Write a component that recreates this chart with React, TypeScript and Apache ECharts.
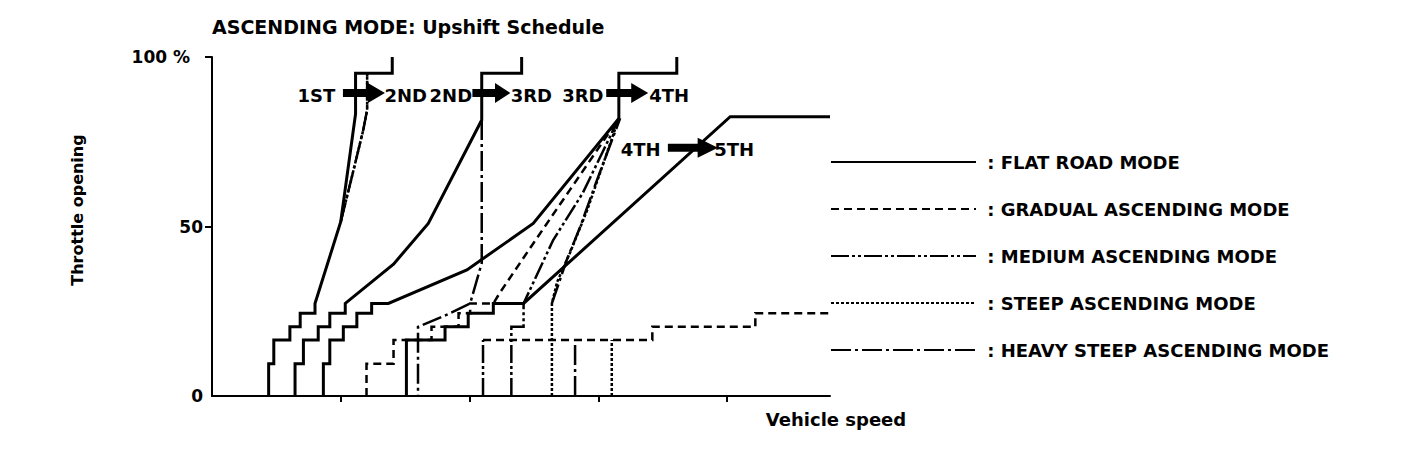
import React, { useEffect, useRef } from 'react';
import * as echarts from 'echarts';

const FONT = '"DejaVu Sans", "Liberation Sans", sans-serif';

const TITLE = 'ASCENDING MODE: Upshift Schedule';
const Y_NAME = 'Throttle opening';
const X_NAME = 'Vehicle speed';

const MODES = [
  'FLAT ROAD MODE',
  'GRADUAL ASCENDING MODE',
  'MEDIUM ASCENDING MODE',
  'STEEP ASCENDING MODE',
  'HEAVY STEEP ASCENDING MODE',
];

// x: vehicle speed (arbitrary units, 20 per tick), y: throttle opening (%)
const flat12 = [[8.8,0],[8.8,9.5],[9.6,9.5],[9.6,16.5],[12.1,16.5],[12.1,20.4],[13.7,20.4],[13.7,24.4],[16.0,24.4],[16.0,27.3],[20.0,51.4],[22.3,83.2],[22.3,95.2],[28.0,95.2],[28.0,100]];
const flat23 = [[12.9,0],[12.9,9.5],[14.2,9.5],[14.2,16.5],[16.5,16.5],[16.5,20.4],[18.3,20.4],[18.3,24.4],[20.7,24.4],[20.7,27.3],[28.2,38.9],[33.6,50.9],[41.9,81.4],[41.9,95.2],[48.1,95.2],[48.1,100]];
const flat34 = [[17.3,0],[17.3,9.5],[18.3,9.5],[18.3,16.5],[20.4,16.5],[20.4,20.4],[22.5,20.4],[22.5,24.4],[24.8,24.4],[24.8,27.3],[27.4,27.3],[39.6,37.2],[49.9,50.9],[63.2,81.9],[63.2,95.2],[72.2,95.2],[72.2,100]];
const flat45 = [[30.2,0],[30.2,16.5],[36.2,16.5],[36.2,20.4],[39.8,20.4],[39.8,24.4],[43.7,24.4],[43.7,27.3],[48.4,27.3],[80.5,82.4],[96,82.4]];

const grad34 = [[24.0,0],[24.0,9.5],[28.2,9.5],[28.2,16.5],[34.1,16.5],[34.1,20.4],[38.3,20.4],[38.3,24.4],[40.1,24.4],[40.1,27.3],[43.7,27.3],[44.7,30.4],[49.9,45.0],[55.6,60.8],[63.2,81.9]];
const grad45 = [[42.1,16.5],[68.4,16.5],[68.4,20.4],[84.4,20.4],[84.4,24.4],[96,24.4]];

const med34 = [[46.5,0],[46.5,20.4],[48.4,20.4],[48.4,27.3],[53.0,46.0],[57.6,59.9],[63.2,81.9]];
const med45 = [[42.1,0],[42.1,16.5]];

const steep12 = [[20.0,51.4],[21.8,65.2],[23.5,78.5],[24.1,84.4],[24.1,95.2]];
const steep34 = [[52.8,0],[52.8,27.3],[53.6,33.6],[55.6,42.2],[58.3,54.9],[63.2,81.9]];
const steep45 = [[62.1,0],[62.1,16.5]];

const heavy12 = [[20.0,51.4],[21.8,65.2],[23.5,78.5],[24.1,84.4],[24.1,95.2]];
const heavy23 = [[41.9,81.4],[41.9,39.2],[40.1,27.3],[36.4,23.9],[32.0,20.4],[32.0,0]];
const heavy34 = [[52.8,27.3],[55.1,40.1],[57.2,49.9],[59.8,63.7],[63.4,81.9]];
const heavy45 = [[56.4,0],[56.4,16.5]];

// shift arrows: position and length
const arrowPos = [[23.6,89.4],[43.4,89.4],[64.5,89.4],[74.7,73.2]];
const arrowLen = [42, 38, 42, 50];

const gearLabels = ['1ST','2ND','2ND','3RD','3RD','4TH','4TH','5TH'];
const gearPos = [[16.2,88.5],[30.1,88.5],[37.1,88.5],[49.6,88.5],[57.6,88.5],[71.0,88.5],[66.6,72.6],[81.1,72.6]];

const STYLES: Record<string, { type: any; width: number }> = {
  'FLAT ROAD MODE': { type: 'solid', width: 3 },
  'GRADUAL ASCENDING MODE': { type: [8, 5], width: 2.5 },
  'MEDIUM ASCENDING MODE': { type: [18, 3, 3, 3, 3, 3], width: 2.5 },
  'STEEP ASCENDING MODE': { type: [3, 2], width: 2.5 },
  'HEAVY STEEP ASCENDING MODE': { type: [20, 4, 3, 4], width: 2.5 },
};

const ARROW = 'path://M0,6L25,6L25,0L42,10L25,20L25,14L0,14Z';

export default function App() {
  const ref = useRef<HTMLDivElement>(null);
  useEffect(() => {
    const chart = echarts.init(ref.current!, null, { renderer: 'svg' });
    const mk = (name: string, data: number[][]) => ({
      type: 'line',
      name,
      data,
      symbol: 'none',
      showSymbol: false,
      clip: false,
      silent: true,
      z: 2,
      itemStyle: { color: '#000' },
      lineStyle: { color: '#000', width: STYLES[name].width, type: STYLES[name].type, cap: 'butt', join: 'miter' },
    });
    const font = { fontFamily: FONT, fontWeight: 'bold' as const, color: '#000' };
    const option: any = {
      animation: false,
      backgroundColor: '#fff',
      title: {
        text: TITLE,
        left: 212,
        top: 17,
        padding: 0,
        textStyle: { ...font, fontSize: 19 },
      },
      grid: { left: 212, top: 57, right: 578, bottom: 72, containLabel: false },
      legend: {
        data: MODES,
        orient: 'vertical',
        left: 830,
        top: 152,
        itemWidth: 145,
        itemHeight: 20,
        itemGap: 27,
        padding: 0,
        selectedMode: false,
        itemStyle: { opacity: 0 },
        formatter: (n: string) => ' : ' + n,
        textStyle: { ...font, fontSize: 18, lineHeight: 20 },
      },
      xAxis: {
        type: 'value',
        min: 0,
        max: 96,
        interval: 20,
        axisLine: { show: true, lineStyle: { color: '#000', width: 2 } },
        axisTick: { show: true, length: 6, customValues: [20, 40, 60, 80], lineStyle: { color: '#000', width: 2 } },
        axisLabel: { show: false },
        splitLine: { show: false },
      },
      yAxis: {
        type: 'value',
        min: 0,
        max: 100,
        interval: 50,
        axisLine: { show: true, lineStyle: { color: '#000', width: 2 } },
        axisTick: { show: true, length: 7, customValues: [50, 100], lineStyle: { color: '#000', width: 2 } },
        splitLine: { show: false },
        axisLabel: {
          ...font,
          fontSize: 17,
          margin: 9,
          formatter: (v: number) => (v === 100 ? '{p|100 %}' : String(v)),
          rich: { p: { ...font, fontSize: 17, padding: [0, 13, 0, 0] } },
        },
      },
      graphic: [
        {
          type: 'text',
          x: 77,
          y: 210,
          rotation: Math.PI / 2,
          style: { text: Y_NAME, font: `bold 16px ${FONT}`, fill: '#000', textAlign: 'center', textVerticalAlign: 'middle' },
        },
        {
          type: 'text',
          x: 836,
          y: 419,
          style: { text: X_NAME, font: `bold 18px ${FONT}`, fill: '#000', textAlign: 'center', textVerticalAlign: 'middle' },
        },
      ],
      series: [
        mk(MODES[0], flat12), mk(MODES[0], flat23), mk(MODES[0], flat34), mk(MODES[0], flat45),
        mk(MODES[1], grad34), mk(MODES[1], grad45),
        mk(MODES[2], med34), mk(MODES[2], med45),
        mk(MODES[3], steep12), mk(MODES[3], steep34), mk(MODES[3], steep45),
        mk(MODES[4], heavy12), mk(MODES[4], heavy23), mk(MODES[4], heavy34), mk(MODES[4], heavy45),
        {
          type: 'scatter',
          name: 'arrows',
          silent: true,
          z: 5,
          symbol: ARROW,
          itemStyle: { color: '#000', opacity: 1 },
          data: arrowPos.map((p, i) => ({ value: p, symbolSize: [arrowLen[i], 20] })),
        },
        {
          type: 'scatter',
          name: 'gears',
          silent: true,
          z: 6,
          symbolSize: 1,
          itemStyle: { color: 'rgba(0,0,0,0)', opacity: 1 },
          label: { show: true, position: 'inside', formatter: '{b}', ...font, fontSize: 18, opacity: 1 },
          data: gearPos.map((p, i) => ({ name: gearLabels[i], value: p })),
        },
      ],
    };
    chart.setOption(option);
    return () => chart.dispose();
  }, []);
  return <div ref={ref} style={{ position: 'fixed', left: 0, top: 0, width: 1408, height: 468, background: '#fff' }} />;
}
